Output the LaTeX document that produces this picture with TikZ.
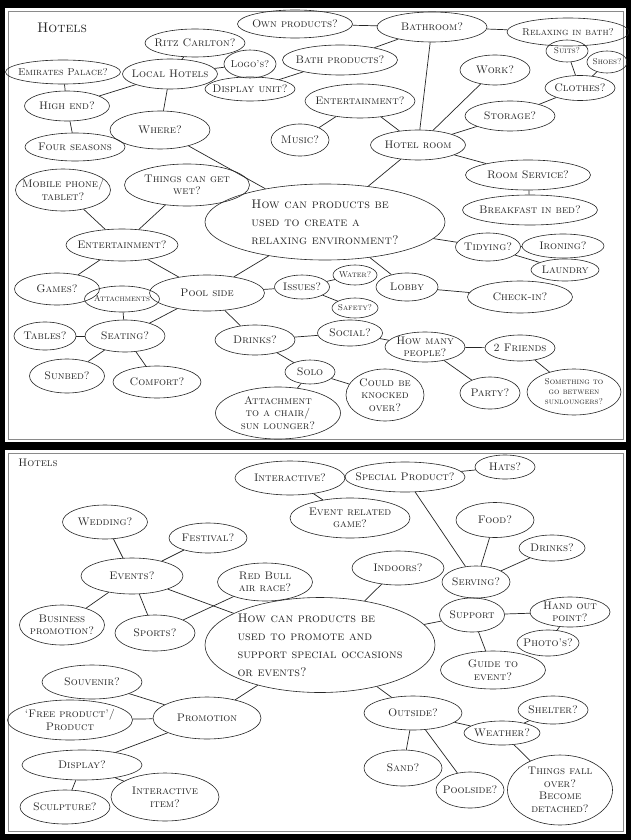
\documentclass[tikz,border=0pt]{standalone}
\usepackage{fontspec}
\usepackage{tikz}
\usetikzlibrary{shapes.geometric}
\definecolor{ink}{HTML}{262626}
\definecolor{rim}{HTML}{8A8A8A}
\newcommand{\handfont}{\fontsize{11}{12.5}\selectfont\scshape}
\newcommand{\bigfont}{\fontsize{12.5}{18}\selectfont\scshape}
\tikzset{
  bubble/.style ={ellipse,draw=ink,line width=0.6pt,inner xsep=-10pt,inner ysep=-1pt,
                  align=center,font=\handfont,text=ink},
  sz/.style 2 args={minimum width=#1pt,minimum height=#2pt},
  wee/.style    ={font=\fontsize{8.5}{10}\selectfont\scshape,inner xsep=-4pt},
  snug/.style   ={font=\fontsize{10}{11.5}\selectfont\scshape},
  question/.style={bubble,align=left,font=\bigfont},
  heading/.style={font=\fontsize{14}{16}\selectfont\scshape,text=ink},
  link/.style   ={draw=ink,line width=0.7pt}
}

\begin{document}
\begin{tikzpicture}[x=1pt,y=-1pt]
  \useasboundingbox (0,0) rectangle (631,840);
  % frames of the two sheets
  \fill[black] (0,0) rectangle (631,840);
  \fill[white] (5,8) rectangle (626,442);
  \fill[white] (5,450) rectangle (626,834);
  \draw[rim,line width=0.8pt] (8,11) rectangle (623,439);
  \draw[rim,line width=0.8pt] (8,453) rectangle (623,831);

  % ---- sheet 1: relaxing environment
  \node[heading] (hotelsA) at (62,28) {Hotels};
  \node[question,sz={240}{76}] (qA) at (325,222)
    {How can products be\\used to create a\\relaxing environment?};
  \node[bubble,sz={115}{28}] (own) at (295,24) {Own products?};
  \node[bubble,sz={110}{30}] (bathroom) at (432,27) {Bathroom?};
  \node[bubble,snug,sz={122}{28}] (relax) at (568,32) {Relaxing in bath?};
  \node[bubble,sz={115}{30}] (bathprod) at (340,60) {Bath products?};
  \node[bubble,sz={100}{28}] (ritz) at (195,43) {Ritz Carlton?};
  \node[bubble,sz={95}{30}] (local) at (170,74) {Local Hotels};
  \node[bubble,snug,sz={52}{28}] (logos) at (250,64) {Logo's?};
  \node[bubble,sz={90}{24}] (display) at (250,89) {Display unit?};
  \node[bubble,snug,sz={115}{24}] (emirates) at (63,72) {Emirates Palace?};
  \node[bubble,sz={85}{30}] (highend) at (67,106) {High end?};
  \node[bubble,sz={100}{28}] (four) at (75,147) {Four seasons};
  \node[bubble,sz={100}{38}] (where) at (160,130) {Where?};
  \node[bubble,sz={110}{34}] (entA) at (360,101) {Entertainment?};
  \node[bubble,sz={58}{32}] (music) at (300,140) {Music?};
  \node[bubble,sz={95}{30}] (room) at (418,145) {Hotel room};
  \node[bubble,sz={70}{30}] (work) at (495,70) {Work?};
  \node[bubble,wee,sz={42}{22}] (suits) at (567,51) {Suits?};
  \node[bubble,wee,sz={40}{22}] (shoes) at (607,62) {Shoes?};
  \node[bubble,sz={70}{25}] (clothes) at (580,88) {Clothes?};
  \node[bubble,sz={90}{30}] (storage) at (510,116) {Storage?};
  \node[bubble,sz={125}{30}] (service) at (528,175) {Room Service?};
  \node[bubble,sz={135}{30}] (breakfast) at (530,210) {Breakfast in bed?};
  \node[bubble,sz={65}{28}] (tidying) at (488,247) {Tidying?};
  \node[bubble,sz={82}{24}] (ironing) at (563,246) {Ironing?};
  \node[bubble,sz={68}{22}] (laundry) at (565,270) {Laundry};
  \node[bubble,sz={105}{32}] (checkin) at (520,297) {Check-in?};
  \node[bubble,sz={62}{28}] (lobby) at (407,287) {Lobby};
  \node[bubble,wee,sz={44}{20}] (water) at (355,275) {Water?};
  \node[bubble,sz={55}{24}] (issues) at (302,287) {Issues?};
  \node[bubble,wee,sz={46}{20}] (safety) at (355,308) {Safety?};
  \node[bubble,sz={115}{36}] (pool) at (207,293) {Pool side};
  \node[bubble,sz={125}{42}] (wet) at (187,185) {Things can get\\wet?};
  \node[bubble,sz={95}{42}] (mobile) at (63,190) {Mobile phone/\\tablet?};
  \node[bubble,sz={112}{32}] (entB) at (122,245) {Entertainment?};
  \node[bubble,sz={85}{32}] (games) at (57,289) {Games?};
  \node[bubble,wee,sz={75}{26}] (attach) at (122,299) {Attachments};
  \node[bubble,sz={80}{32}] (seating) at (125,336) {Seating?};
  \node[bubble,sz={62}{28}] (tables) at (45,336) {Tables?};
  \node[bubble,sz={75}{34}] (sunbed) at (67,376) {Sunbed?};
  \node[bubble,sz={88}{32}] (comfort) at (157,382) {Comfort?};
  \node[bubble,sz={80}{30}] (drinksA) at (255,340) {Drinks?};
  \node[bubble,sz={65}{26}] (social) at (350,333) {Social?};
  \node[bubble,sz={80}{30}] (howmany) at (425,347) {How many\\people?};
  \node[bubble,sz={70}{26}] (friends) at (520,348) {2 Friends};
  \node[bubble,sz={60}{32}] (party) at (490,393) {Party?};
  \node[bubble,wee,sz={94}{46}] (between) at (574,392) {Something to\\go between\\sunloungers?};
  \node[bubble,sz={50}{24}] (solo) at (310,372) {Solo};
  \node[bubble,sz={78}{52}] (knocked) at (385,395) {Could be\\knocked\\over?};
  \node[bubble,sz={125}{52}] (chair) at (278,413) {Attachment\\to a chair/\\sun lounger?};

  \draw[link] (own) -- (bathroom);
  \draw[link] (bathroom) -- (relax);
  \draw[link] (bathroom) -- (bathprod);
  \draw[link] (bathroom) -- (room);
  \draw[link] (ritz) -- (local);
  \draw[link] (local) -- (logos);
  \draw[link] (display) -- (bathprod);
  \draw[link] (emirates) -- (highend);
  \draw[link] (highend) -- (local);
  \draw[link] (highend) -- (four);
  \draw[link] (local) -- (where);
  \draw[link] (where) -- (qA);
  \draw[link] (entA) -- (room);
  \draw[link] (music) -- (entA);
  \draw[link] (room) -- (work);
  \draw[link] (room) -- (storage);
  \draw[link] (storage) -- (clothes);
  \draw[link] (suits) -- (clothes);
  \draw[link] (shoes) -- (clothes);
  \draw[link] (room) -- (service);
  \draw[link] (service) -- (breakfast);
  \draw[link] (room) -- (qA);
  \draw[link] (qA) -- (tidying);
  \draw[link] (tidying) -- (ironing);
  \draw[link] (tidying) -- (laundry);
  \draw[link] (qA) -- (lobby);
  \draw[link] (lobby) -- (checkin);
  \draw[link] (qA) -- (pool);
  \draw[link] (pool) -- (issues);
  \draw[link] (issues) -- (water);
  \draw[link] (issues) -- (safety);
  \draw[link] (wet) -- (entB);
  \draw[link] (mobile) -- (entB);
  \draw[link] (entB) -- (games);
  \draw[link] (entB) -- (pool);
  \draw[link] (attach) -- (seating);
  \draw[link] (seating) -- (pool);
  \draw[link] (tables) -- (seating);
  \draw[link] (seating) -- (sunbed);
  \draw[link] (seating) -- (comfort);
  \draw[link] (pool) -- (drinksA);
  \draw[link] (drinksA) -- (social);
  \draw[link] (social) -- (howmany);
  \draw[link] (howmany) -- (friends);
  \draw[link] (howmany) -- (party);
  \draw[link] (friends) -- (between);
  \draw[link] (drinksA) -- (solo);
  \draw[link] (solo) -- (knocked);
  \draw[link] (solo) -- (chair);

  % ---- sheet 2: special occasions
  \node[heading,font=\handfont] (hotelsB) at (38,463) {Hotels};
  \node[question,sz={230}{95}] (qB) at (320,645)
    {How can products be\\used to promote and\\support special occasions\\or events?};
  \node[bubble,sz={110}{34}] (interact) at (290,478) {Interactive?};
  \node[bubble,sz={120}{30}] (special) at (405,477) {Special Product?};
  \node[bubble,sz={60}{24}] (hats) at (505,467) {Hats?};
  \node[bubble,sz={120}{40}] (game) at (350,518) {Event related\\game?};
  \node[bubble,sz={85}{34}] (wedding) at (105,522) {Wedding?};
  \node[bubble,sz={78}{30}] (festival) at (208,538) {Festival?};
  \node[bubble,sz={102}{36}] (events) at (132,576) {Events?};
  \node[bubble,sz={95}{38}] (redbull) at (265,582) {Red Bull\\air race?};
  \node[bubble,sz={85}{40}] (business) at (62,625) {Business\\promotion?};
  \node[bubble,sz={80}{36}] (sports) at (155,633) {Sports?};
  \node[bubble,sz={92}{34}] (indoors) at (398,568) {Indoors?};
  \node[bubble,sz={78}{35}] (food) at (495,520) {Food?};
  \node[bubble,sz={66}{26}] (drinksB) at (552,548) {Drinks?};
  \node[bubble,sz={68}{32}] (serving) at (476,582) {Serving?};
  \node[bubble,sz={65}{34}] (support) at (472,615) {Support};
  \node[bubble,sz={80}{30}] (handout) at (570,612) {Hand out\\point?};
  \node[bubble,sz={62}{26}] (photos) at (548,643) {Photo's?};
  \node[bubble,sz={105}{38}] (guide) at (493,670) {Guide to\\event?};
  \node[bubble,sz={100}{34}] (souvenir) at (92,682) {Souvenir?};
  \node[bubble,sz={108}{42}] (promo) at (207,718) {Promotion};
  \node[bubble,sz={125}{40}] (free) at (70,720) {`Free product'/\\Product};
  \node[bubble,sz={120}{30}] (displayB) at (82,765) {Display?};
  \node[bubble,sz={90}{34}] (sculpt) at (65,807) {Sculpture?};
  \node[bubble,sz={108}{48}] (item) at (165,797) {Interactive\\item?};
  \node[bubble,sz={98}{34}] (outside) at (413,713) {Outside?};
  \node[bubble,sz={76}{24}] (weather) at (502,733) {Weather?};
  \node[bubble,sz={70}{28}] (shelter) at (553,710) {Shelter?};
  \node[bubble,sz={78}{36}] (sand) at (403,768) {Sand?};
  \node[bubble,sz={68}{36}] (poolB) at (470,790) {Poolside?};
  \node[bubble,sz={105}{70}] (fall) at (560,790) {Things fall\\over?\\Become\\detached?};

  \draw[link] (interact) -- (special);
  \draw[link] (interact) -- (game);
  \draw[link] (special) -- (hats);
  \draw[link] (special) -- (serving);
  \draw[link] (wedding) -- (events);
  \draw[link] (festival) -- (events);
  \draw[link] (events) -- (business);
  \draw[link] (events) -- (sports);
  \draw[link] (events) -- (qB);
  \draw[link] (redbull) -- (sports);
  \draw[link] (indoors) -- (qB);
  \draw[link] (food) -- (serving);
  \draw[link] (drinksB) -- (serving);
  \draw[link] (serving) -- (support);
  \draw[link] (support) -- (qB);
  \draw[link] (support) -- (handout);
  \draw[link] (handout) -- (photos);
  \draw[link] (support) -- (guide);
  \draw[link] (qB) -- (promo);
  \draw[link] (souvenir) -- (promo);
  \draw[link] (free) -- (promo);
  \draw[link] (promo) -- (displayB);
  \draw[link] (displayB) -- (sculpt);
  \draw[link] (displayB) -- (item);
  \draw[link] (qB) -- (outside);
  \draw[link] (outside) -- (weather);
  \draw[link] (weather) -- (shelter);
  \draw[link] (weather) -- (fall);
  \draw[link] (outside) -- (sand);
  \draw[link] (outside) -- (poolB);
\end{tikzpicture}
\end{document}
